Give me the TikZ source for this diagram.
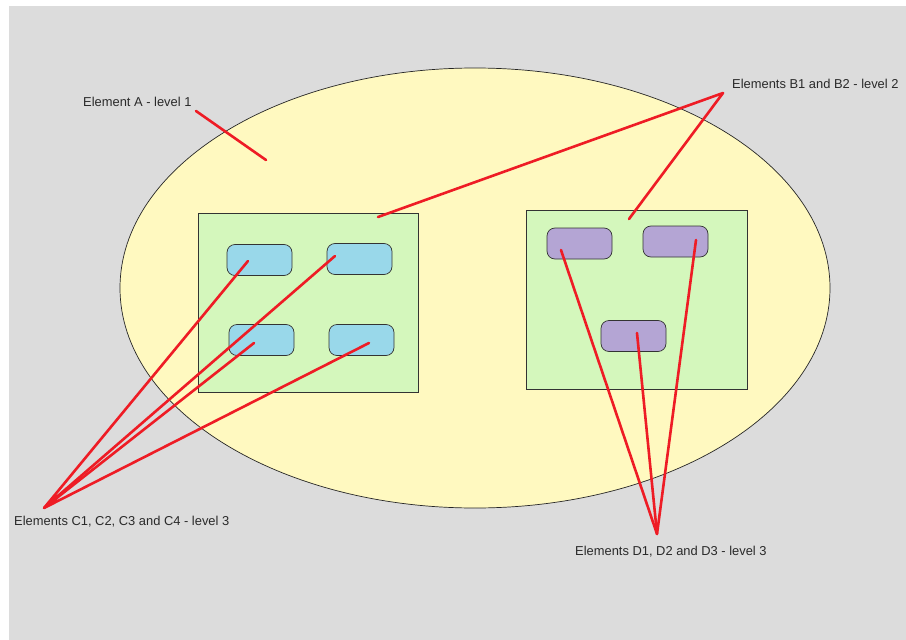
\documentclass[tikz,border=0pt]{standalone}
\usepackage{fontspec}
\setmainfont{Liberation Sans}
\usetikzlibrary{shapes.geometric}
\definecolor{bggray}{HTML}{DCDCDC}
\definecolor{ellfill}{HTML}{FFF9C0}
\definecolor{boxgreen}{HTML}{D4F7BC}
\definecolor{cblue}{HTML}{99D8EA}
\definecolor{dpurple}{HTML}{B4A5D4}
\definecolor{redline}{HTML}{EE1C25}
\definecolor{txt}{HTML}{2A2A2A}
\begin{document}
\begin{tikzpicture}[x=1pt,y=-1pt,
  elem/.style={draw=black!80, line width=0.7pt, rounded corners=8pt, minimum width=65pt, minimum height=31pt, inner sep=0pt, outer sep=0pt},
  cbox/.style={elem, fill=cblue},
  dbox/.style={elem, fill=dpurple},
  groupbox/.style={draw=black!80, line width=0.7pt, fill=boxgreen, inner sep=0pt, outer sep=0pt},
  lbl/.style={anchor=west, inner sep=0pt, text=txt, font=\fontsize{12.9}{14}\selectfont},
  pointer/.style={draw=redline, line width=2.6pt, line cap=round, line join=round}]
\useasboundingbox (0,0) rectangle (906,640);
\fill[bggray] (9,6) rectangle (906,640);
% level 1
\node[ellipse, draw=black!85, line width=0.7pt, fill=ellfill, minimum width=710pt, minimum height=440pt, inner sep=0pt, outer sep=0pt] (A) at (475,288) {};
% level 2
\node[groupbox, minimum width=220pt, minimum height=179pt] (B1) at (308,302.5) {};
\node[groupbox, minimum width=221pt, minimum height=179pt] (B2) at (636.5,299.5) {};
% level 3
\node[cbox] (C1) at (259.5,260) {};
\node[cbox] (C2) at (359.5,259) {};
\node[cbox] (C3) at (261.5,340) {};
\node[cbox] (C4) at (361.5,340) {};
\node[dbox] (D1) at (579.5,243.5) {};
\node[dbox] (D2) at (675.5,241.5) {};
\node[dbox] (D3) at (633.5,336) {};
% labels
\node[lbl] (LA) at (83,102) {Element A - level 1};
\node[lbl] (LB) at (732,84) {Elements B1 and B2 - level 2};
\node[lbl] (LC) at (14,522) {Elements C1, C2, C3 and C4 - level 3};
\node[lbl] (LD) at (575,552) {Elements D1, D2 and D3 - level 3};
% pointer coordinates
\coordinate (pA0) at (196,111);
\coordinate (pA1) at (266,160);
\coordinate (pB0) at (723,93);
\coordinate (pB1) at (378,217);
\coordinate (pB2) at (629,219);
\coordinate (pC0) at (44,508);
\coordinate (pC1) at (248,261);
\coordinate (pC2) at (335,256);
\coordinate (pC3) at (254,343);
\coordinate (pC4) at (369,343);
\coordinate (pD0) at (657,534);
\coordinate (pD1) at (561,250);
\coordinate (pD2) at (696,240);
\coordinate (pD3) at (637,333);
% pointers
\draw[pointer] (pA0) -- (pA1);
\draw[pointer] (pB1) -- (pB0) -- (pB2);
\draw[pointer] (pC1) -- (pC0) -- (pC2);
\draw[pointer] (pC3) -- (pC0) -- (pC4);
\draw[pointer] (pD1) -- (pD0) -- (pD2);
\draw[pointer] (pD3) -- (pD0);
\end{tikzpicture}
\end{document}
